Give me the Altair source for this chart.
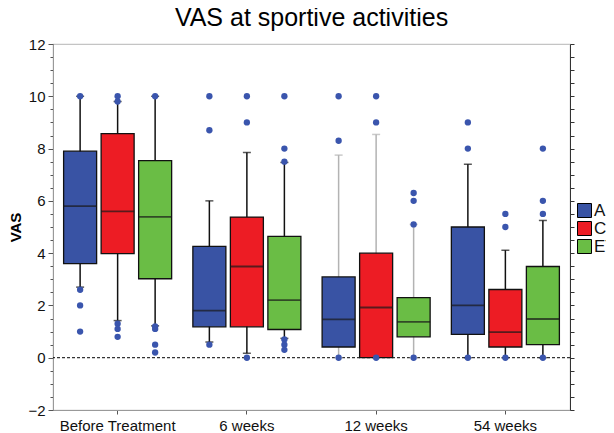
import altair as alt
import pandas as pd

categories = ["Before Treatment", "6 weeks", "12 weeks", "54 weeks"]
groups = ["AH", "CC", "ET"]
colors = ["#3953a4", "#ed1c24", "#6abd45"]

AH_q1 = [3.6, 1.18, 0.41, 0.89]
AH_med = [5.8, 1.8, 1.47, 2.0]
AH_q3 = [7.9, 4.26, 3.09, 5.0]
AH_lo = [2.7, 0.6, 0.0, 0.0]
AH_hi = [10.0, 6.0, 7.75, 7.4]
AH_pts = [[10, 2.6, 2.0, 1.0], [10, 8.7, 0.5], [10, 8.3, 0.0], [9.0, 8.0, 0.0]]

CC_q1 = [3.98, 1.18, 0.0, 0.41]
CC_med = [5.6, 3.49, 1.92, 0.98]
CC_q3 = [8.57, 5.38, 4.0, 2.61]
CC_lo = [1.42, 0.17, 0.0, 0.0]
CC_hi = [9.8, 7.85, 8.54, 4.11]
CC_pts = [[10, 9.8, 1.3, 1.1, 0.8], [10, 9.0, 0.0], [10, 9.0, 0.0], [5.5, 5.0, 0.0]]

ET_q1 = [3.02, 1.08, 0.8, 0.5]
ET_med = [5.39, 2.2, 1.37, 1.48]
ET_q3 = [7.54, 4.64, 2.3, 3.49]
ET_lo = [1.22, 0.74, 0.0, 0.0]
ET_hi = [10.0, 7.47, 5.1, 5.25]
ET_pts = [[10, 1.2, 1.1, 0.5, 0.2], [10, 8.0, 7.5, 0.7, 0.5, 0.3],
          [6.3, 6.0, 5.1, 0.0], [8.0, 6.0, 5.5, 0.0]]

y_ticks = [-2, 0, 2, 4, 6, 8, 10, 12]
minor_ticks = [v / 2 for v in range(-4, 25)]

stats = {
    "AH": (AH_q1, AH_med, AH_q3, AH_lo, AH_hi, AH_pts),
    "CC": (CC_q1, CC_med, CC_q3, CC_lo, CC_hi, CC_pts),
    "ET": (ET_q1, ET_med, ET_q3, ET_lo, ET_hi, ET_pts),
}

box_rows, pt_rows = [], []
for g in groups:
    q1, med, q3, lo, hi, pts = stats[g]
    for i, c in enumerate(categories):
        box_rows.append(dict(cat=c, group=g, q1=q1[i], med=med[i], q3=q3[i], lo=lo[i], hi=hi[i]))
        for v in pts[i]:
            pt_rows.append(dict(cat=c, group=g, v=v))
box_df = pd.DataFrame(box_rows)
pt_df = pd.DataFrame(pt_rows)
zero_df = pd.DataFrame({"zero": [0.0]})

yscale = alt.Scale(domain=[-2, 12], nice=False, zero=False)
xscale = alt.Scale(domain=categories, paddingInner=0, paddingOuter=0)
xoff = alt.XOffset("group:N", scale=alt.Scale(domain=groups, paddingInner=0.12, paddingOuter=0.283))
xaxis = alt.Axis(title=None, labelAngle=0, labelFontSize=15, labelColor="#111",
                 labelPadding=4, tickSize=4, tickColor="#555", domainColor="#999",
                 labelFont="Liberation Sans", grid=False)
X = alt.X("cat:N", scale=xscale, sort=categories, axis=xaxis)

base = alt.Chart(box_df)

zero_line = alt.Chart(zero_df).mark_rule(color="black", strokeDash=[3, 2], strokeWidth=1).encode(
    y=alt.Y("zero:Q", scale=yscale,
            axis=alt.Axis(orient="right", values=minor_ticks, labels=False, title=None,
                          tickSize=4, tickColor="#333", domainColor="#333", grid=False))
)

whisk_col = alt.condition(alt.datum.cat == "12 weeks", alt.value("#b3b3b3"), alt.value("#111111"))

whiskers = base.mark_rule(strokeWidth=1.5).encode(
    x=X, xOffset=xoff,
    y=alt.Y("lo:Q", scale=yscale,
            axis=alt.Axis(orient="left", values=minor_ticks, labels=False, title=None,
                          tickSize=3, tickColor="#555", domain=False, grid=False)),
    y2="hi:Q",
    color=whisk_col,
)

caps_hi = base.mark_tick(size=8, thickness=1.5, orient="horizontal").encode(
    x=X, xOffset=xoff, y=alt.Y("hi:Q", scale=yscale, axis=None), color=whisk_col)
caps_lo = base.mark_tick(size=8, thickness=1.5, orient="horizontal").encode(
    x=X, xOffset=xoff, y=alt.Y("lo:Q", scale=yscale, axis=None), color=whisk_col)

boxes = base.mark_bar(stroke="#111111", strokeWidth=1.3, opacity=1).encode(
    x=X,
    xOffset=xoff,
    y=alt.Y("q1:Q", scale=yscale,
            axis=alt.Axis(orient="left", values=y_ticks, title="VAS", titleFontSize=15,
                          titleFontWeight="bold", titleColor="black", titlePadding=4,
                          titleFont="Liberation Sans", labelFont="Liberation Sans",
                          labelFontSize=15, labelColor="#111", tickSize=5, labelPadding=3,
                          tickColor="#555", domainColor="#999", grid=False)),
    y2="q3:Q",
    color=alt.Color("group:N", scale=alt.Scale(domain=groups, range=colors),
                    legend=alt.Legend(title=None, orient="none", legendX=523, legendY=158,
                                      symbolType="square", symbolSize=196,
                                      symbolStrokeColor="black", symbolStrokeWidth=1,
                                      symbolOpacity=1, labelFontSize=17, labelColor="#111",
                                      labelFont="Liberation Sans", labelOffset=1,
                                      rowPadding=-2.5)),
)

medians = base.mark_tick(size=33, thickness=1.8, color="#1a1a1a", orient="horizontal").encode(
    x=X, xOffset=xoff, y=alt.Y("med:Q", scale=yscale, axis=None))

points = alt.Chart(pt_df).mark_circle(size=40, color="#3a55ad", opacity=1).encode(
    x=X, xOffset=xoff, y=alt.Y("v:Q", scale=yscale, axis=None))

chart = alt.layer(zero_line, whiskers, caps_hi, caps_lo, boxes, medians, points).resolve_axis(
    y="independent"
).properties(
    width=517, height=366,
    title=alt.TitleParams("VAS at sportive activities", fontSize=25, fontWeight="normal",
                          font="Liberation Sans", color="black", anchor="middle", offset=6),
    autosize=alt.AutoSizeParams(type="none"),
    padding={"left": 45, "top": 36, "right": 36, "bottom": 23},
).configure_view(stroke="#c4c4c4", strokeWidth=1.2)

chart.save("out.html", embed_options={"renderer": "svg", "actions": False})
